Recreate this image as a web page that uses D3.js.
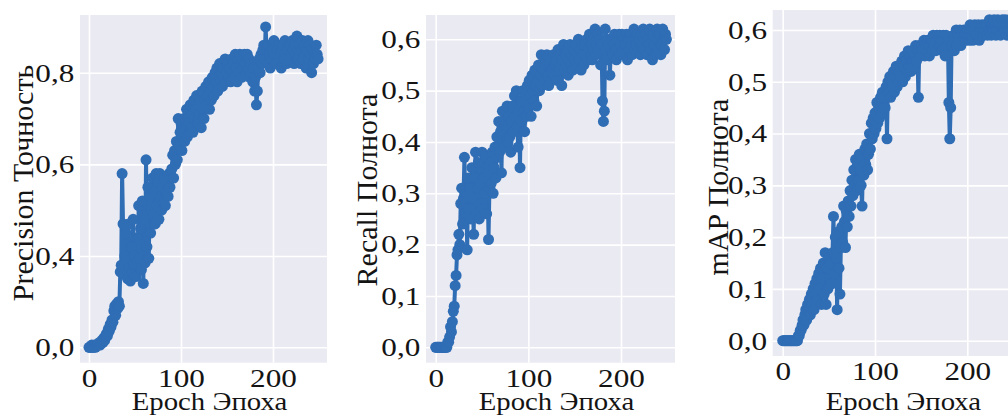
<!DOCTYPE html>
<html>
<head>
<meta charset="utf-8">
<script src="https://cdnjs.cloudflare.com/ajax/libs/d3/7.8.5/d3.min.js"></script>
<style>
  body { margin: 0; background: #fff; }
  svg { display: block; }
</style>
</head>
<body>
<div id="chart"></div>
<script>
// values, one per epoch (epoch = index)
var precision = [
  0.00,0.00,0.00,0.01,0.00,0.00,0.01,0.00,0.01,0.01,
  0.01,0.02,0.01,0.02,0.03,0.02,0.04,0.03,0.05,0.06,
  0.05,0.08,0.07,0.10,0.09,0.12,0.11,0.16,0.18,0.14,
  0.19,0.17,0.20,0.18,0.33,0.36,0.58,0.47,0.32,0.40,
  0.45,0.38,0.30,0.47,0.35,0.29,0.42,0.33,0.48,0.36,
  0.40,0.31,0.44,0.36,0.51,0.39,0.46,0.34,0.52,0.28,
  0.48,0.37,0.61,0.42,0.55,0.39,0.53,0.45,0.50,0.57,
  0.49,0.54,0.47,0.58,0.51,0.56,0.48,0.58,0.53,0.50,
  0.55,0.52,0.57,0.51,0.54,0.56,0.53,0.58,0.55,0.57,
  0.59,0.62,0.57,0.63,0.60,0.65,0.61,0.70,0.64,0.67,
  0.69,0.63,0.66,0.70,0.65,0.68,0.72,0.66,0.70,0.69,
  0.73,0.68,0.71,0.67,0.74,0.70,0.72,0.75,0.69,0.73,
  0.71,0.74,0.68,0.76,0.72,0.70,0.74,0.77,0.73,0.75,
  0.78,0.72,0.76,0.74,0.79,0.77,0.75,0.80,0.78,0.81,
  0.76,0.79,0.82,0.78,0.80,0.77,0.81,0.79,0.83,0.78,
  0.80,0.82,0.79,0.81,0.78,0.83,0.80,0.82,0.79,0.84,
  0.81,0.78,0.83,0.80,0.84,0.82,0.79,0.83,0.81,0.84,
  0.82,0.80,0.84,0.81,0.83,0.79,0.82,0.80,0.78,0.81,
  0.76,0.79,0.73,0.76,0.81,0.83,0.80,0.84,0.82,0.85,
  0.86,0.83,0.90,0.85,0.82,0.86,0.84,0.81,0.86,0.83,
  0.85,0.87,0.84,0.82,0.86,0.85,0.83,0.86,0.84,0.81,
  0.85,0.86,0.83,0.87,0.84,0.82,0.86,0.85,0.83,0.86,
  0.84,0.87,0.85,0.82,0.86,0.84,0.88,0.83,0.85,0.86,
  0.82,0.85,0.87,0.83,0.86,0.84,0.81,0.85,0.87,0.83,
  0.86,0.84,0.80,0.85,0.82,0.84,0.83,0.86,0.84,0.83
];

var recall = [
  0.00,0.00,0.00,0.00,0.00,0.00,0.00,0.00,0.00,0.00,
  0.00,0.00,0.00,0.01,0.01,0.02,0.04,0.03,0.05,0.07,
  0.08,0.12,0.14,0.18,0.19,0.22,0.20,0.28,0.31,0.24,
  0.29,0.37,0.26,0.30,0.19,0.33,0.27,0.31,0.25,0.35,
  0.29,0.22,0.33,0.38,0.26,0.31,0.36,0.25,0.32,0.28,
  0.38,0.27,0.33,0.30,0.37,0.26,0.34,0.21,0.31,0.36,
  0.32,0.38,0.30,0.35,0.39,0.33,0.41,0.37,0.44,0.38,
  0.42,0.34,0.46,0.40,0.44,0.39,0.43,0.47,0.40,0.45,
  0.41,0.38,0.44,0.47,0.42,0.49,0.45,0.50,0.43,0.39,
  0.46,0.35,0.48,0.44,0.50,0.46,0.42,0.49,0.45,0.51,
  0.47,0.52,0.49,0.45,0.53,0.50,0.48,0.54,0.51,0.47,
  0.52,0.55,0.50,0.53,0.57,0.51,0.54,0.56,0.52,0.55,
  0.57,0.53,0.51,0.55,0.52,0.56,0.54,0.57,0.53,0.55,
  0.56,0.52,0.58,0.54,0.57,0.55,0.51,0.56,0.59,0.54,
  0.57,0.55,0.58,0.53,0.56,0.59,0.55,0.57,0.54,0.58,
  0.56,0.59,0.55,0.57,0.60,0.56,0.58,0.54,0.59,0.57,
  0.55,0.59,0.57,0.60,0.56,0.58,0.61,0.57,0.59,0.56,
  0.60,0.58,0.62,0.57,0.59,0.61,0.58,0.60,0.55,0.59,
  0.48,0.44,0.46,0.62,0.58,0.60,0.56,0.59,0.53,0.58,
  0.60,0.57,0.59,0.61,0.58,0.56,0.60,0.58,0.61,0.57,
  0.59,0.61,0.57,0.60,0.58,0.59,0.61,0.56,0.60,0.58,
  0.61,0.59,0.57,0.60,0.62,0.58,0.60,0.59,0.61,0.58,
  0.60,0.57,0.61,0.59,0.62,0.58,0.60,0.61,0.57,0.60,
  0.59,0.62,0.58,0.60,0.56,0.61,0.59,0.57,0.60,0.62,
  0.58,0.60,0.61,0.57,0.59,0.62,0.60,0.58,0.61,0.60
];

var mAP = [
  0.00,0.00,0.00,0.00,0.00,0.00,0.00,0.00,0.00,0.00,
  0.00,0.00,0.00,0.00,0.00,0.00,0.00,0.01,0.01,0.02,
  0.02,0.03,0.04,0.03,0.05,0.06,0.04,0.07,0.06,0.08,
  0.05,0.09,0.07,0.10,0.06,0.11,0.09,0.12,0.08,0.13,
  0.10,0.14,0.07,0.12,0.15,0.09,0.17,0.07,0.14,0.10,
  0.16,0.12,0.15,0.11,0.17,0.24,0.13,0.20,0.16,0.06,
  0.21,0.14,0.09,0.18,0.22,0.19,0.26,0.23,0.18,0.25,
  0.22,0.27,0.24,0.29,0.26,0.31,0.28,0.33,0.30,0.35,
  0.29,0.34,0.31,0.36,0.33,0.30,0.26,0.35,0.32,0.37,
  0.34,0.38,0.33,0.36,0.40,0.37,0.42,0.39,0.43,0.40,
  0.44,0.41,0.46,0.42,0.45,0.43,0.47,0.44,0.48,0.45,
  0.47,0.45,0.49,0.39,0.50,0.48,0.51,0.47,0.50,0.49,
  0.52,0.48,0.51,0.53,0.49,0.52,0.50,0.53,0.51,0.54,
  0.50,0.53,0.55,0.51,0.54,0.52,0.56,0.53,0.55,0.52,
  0.54,0.56,0.53,0.55,0.57,0.54,0.56,0.47,0.57,0.56,
  0.55,0.57,0.56,0.58,0.55,0.57,0.56,0.58,0.57,0.55,
  0.57,0.58,0.56,0.59,0.57,0.58,0.56,0.59,0.58,0.57,
  0.59,0.57,0.58,0.56,0.59,0.58,0.55,0.59,0.57,0.58,
  0.46,0.39,0.45,0.58,0.57,0.59,0.56,0.58,0.60,0.57,
  0.59,0.58,0.60,0.57,0.59,0.58,0.60,0.59,0.58,0.60,
  0.59,0.60,0.58,0.61,0.59,0.60,0.58,0.60,0.61,0.59,
  0.60,0.59,0.61,0.58,0.60,0.59,0.61,0.60,0.59,0.61,
  0.60,0.61,0.59,0.60,0.62,0.60,0.59,0.61,0.60,0.62,
  0.61,0.59,0.60,0.62,0.60,0.61,0.59,0.60,0.62,0.61,
  0.60,0.62,0.61,0.59,0.61,0.60,0.62,0.61,0.60,0.61
];

var xTicks = [0, 100, 200];
var precisionTicks = [0, 0.4, 0.6, 0.8];
var recallTicks = [0, 0.1, 0.2, 0.3, 0.4, 0.5, 0.6];
var mapTicks = [0, 0.1, 0.2, 0.3, 0.4, 0.5, 0.6];

var xLabel = "Epoch Эпоха";
var yLabels = ["Precision Точность", "Recall Полнота", "mAP Полнота"];

(function(){

  var width = 1008;
  var height = 416;
  var color = "#2f6db5";
  var serif = '"Liberation Serif", "Times New Roman", "DejaVu Serif", serif';
  //text in the picture is a bit wider than it is tall
  var tickStretch = "scale(1.2,1)";
  var labelStretch = "scale(1.15,1)";

  var svg = d3.select("#chart")
    .append("svg")
    .attr("width", width)
    .attr("height", height)

  // where each panel sits on the page (the first one has an uneven y axis)
  var panels = [
    { values: precision, ticks: precisionTicks, label: yLabels[0],
      left: 80, right: 327, top: 15, bottom: 362.7,
      xr: [89, 273], yd: [0, 0.4, 0.8], yr: [347.3, 256, 72.7], labelX: 23, labelY: 183 },
    { values: recall, ticks: recallTicks, label: yLabels[1],
      left: 426, right: 675, top: 15, bottom: 362.7,
      xr: [435.7, 621], yd: [0, 0.6], yr: [347.3, 39.3], labelX: 367, labelY: 190 },
    { values: mAP, ticks: mapTicks, label: yLabels[2],
      left: 772.7, right: 1022, top: 10, bottom: 356,
      xr: [782.7, 967.3], yd: [0, 0.6], yr: [340.7, 30], labelX: 718, labelY: 187 }
  ];

  var fmt = function(d){ return d3.format(".1f")(d).replace(".", ","); };

  panels.forEach(function(p, i){

    var x = d3.scaleLinear().domain([0, 200]).range(p.xr);
    var y = d3.scaleLinear().domain(p.yd).range(p.yr);

    var g = svg.append("g");

    //grey background of the axes
    g.append("rect")
      .attr("x", p.left)
      .attr("y", p.top)
      .attr("width", p.right - p.left)
      .attr("height", p.bottom - p.top)
      .attr("fill", "#eaeaf2")

    //x axis with white grid lines
    var xAxis = g.append("g")
      .attr("transform", "translate(0," + p.bottom + ")")
      .call(d3.axisBottom(x).tickValues(xTicks).tickSize(-(p.bottom - p.top)).tickPadding(6).tickFormat(d3.format("d")))
    xAxis.select(".domain").remove()

    //y axis with white grid lines
    var yAxis = g.append("g")
      .attr("transform", "translate(" + p.left + ",0)")
      .call(d3.axisLeft(y).tickValues(p.ticks).tickSize(-(p.right - p.left)).tickPadding(4.7).tickFormat(fmt))
    yAxis.select(".domain").remove()

    g.selectAll(".tick line")
      .attr("stroke", "#fff")
      .attr("stroke-width", 1.6)
    g.selectAll(".tick text")
      .attr("transform", tickStretch)
      .style("font-family", serif)
      .style("font-size", "26px")
      .style("fill", "#141414")

    var clipId = "clip" + i;
    svg.append("clipPath").attr("id", clipId)
      .append("rect")
      .attr("x", p.left)
      .attr("y", p.top)
      .attr("width", p.right - p.left)
      .attr("height", p.bottom - p.top)

    var plot = g.append("g").attr("clip-path", "url(#" + clipId + ")");

    var line = d3.line()
      .x(function(d, j){ return x(j); })
      .y(function(d){ return y(d); })

    plot.append("path")
      .datum(p.values)
      .attr("d", line)
      .attr("fill", "none")
      .attr("stroke", color)
      .attr("stroke-width", 4)
      .attr("stroke-linejoin", "round")

    plot.selectAll(".dot")
      .data(p.values)
      .enter().append("circle")
      .attr("class", "dot")
      .attr("cx", function(d, j){ return x(j); })
      .attr("cy", function(d){ return y(d); })
      .attr("r", 5.5)
      .attr("fill", color)

    //axis titles
    g.append("text")
      .attr("transform", "translate(" + ((p.left + p.right) / 2 + 6) + ",410) " + labelStretch)
      .attr("text-anchor", "middle")
      .style("font-family", serif)
      .style("font-size", "25px")
      .style("fill", "#141414")
      .text(xLabel)

    g.append("text")
      .attr("transform", "translate(" + (p.labelX + 10) + "," + p.labelY + ") rotate(-90)")
      .attr("text-anchor", "middle")
      .style("font-family", serif)
      .style("font-size", "30px")
      .style("fill", "#141414")
      .text(p.label)
  });

})();
</script>
</body>
</html>
